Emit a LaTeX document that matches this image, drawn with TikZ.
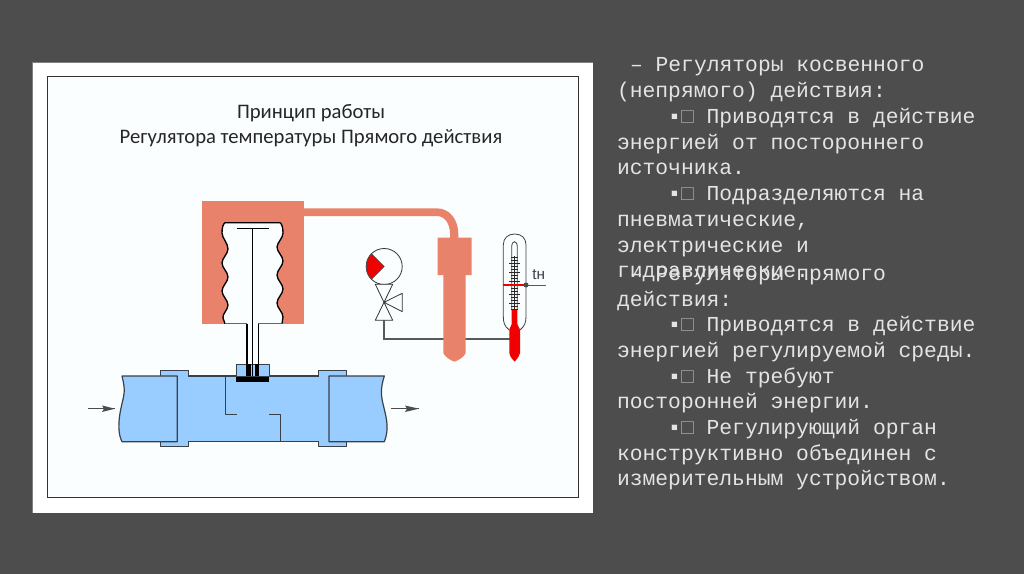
\documentclass[tikz,border=0pt]{standalone}
\usepackage{fontspec}
\setmainfont{Liberation Mono}
\newfontfamily\titlefont{Carlito}
\newfontfamily\labelfont{Liberation Sans}
\definecolor{bgc}{HTML}{4D4D4D}
\definecolor{panel}{HTML}{FBFEFF}
\definecolor{orangec}{HTML}{E9826B}
\definecolor{bluec}{HTML}{99CCFF}
\definecolor{linec}{HTML}{3A4048}
\definecolor{txt}{HTML}{E4E4E4}
\definecolor{boxc}{HTML}{A0A0A0}
\definecolor{redc}{HTML}{F00000}
\newcommand{\bul}{\hspace*{38.4pt}▪{\color{boxc}□} }
\tikzset{
  x=0.75pt,y=-0.75pt,
  body/.style={anchor=base west,inner sep=0,outer sep=0,text=txt,font=\fontsize{16}{18}\selectfont},
  titletext/.style={anchor=base,inner sep=0,text=black!85,font=\titlefont\fontsize{15.5}{18}\selectfont},
  outline/.style={draw=linec,line width=0.9pt,line join=round},
  thin line/.style={draw=linec,line width=0.6pt,line join=round},
  tick mark/.style={draw=black!85,line width=0.55pt}
}
\begin{document}
\begin{tikzpicture}
\useasboundingbox (0,0) rectangle (1024,574);
\fill[bgc] (0,0) rectangle (1024,574);
% frame
\fill[white] (32,62) rectangle (593,513);
\draw[black!50,line width=1pt] (32.5,62.5) -- (32.5,513) (32.5,62.5) -- (593,62.5);
\fill[panel] (47,77) rectangle (578,497);
\draw[black!80,line width=0.75pt] (47,77) rectangle (578,497);
% titles
\node[titletext] (t1) at (311,119) {Принцип работы};
\node[titletext] (t2) at (311,144) {Регулятора температуры Прямого действия};
% pipe
\fill[bluec] (160.3,370.3) rectangle (188,446.7);
\fill[bluec] (318.7,370.3) rectangle (346.7,446.7);
\fill[bluec] (188,376) rectangle (318.7,441.7);
\draw[thin line] (160.3,376) -- (160.3,370.3) -- (188,370.3) -- (188,376)
  (160.3,441.7) -- (160.3,446.7) -- (188,446.7) -- (188,441.7)
  (318.7,376) -- (318.7,370.3) -- (346.7,370.3) -- (346.7,376)
  (318.7,441.7) -- (318.7,446.7) -- (346.7,446.7) -- (346.7,441.7);
\draw[outline] (188,376) -- (318.7,376) (188,441.7) -- (318.7,441.7);
\draw[outline,fill=bluec] (177.3,376) -- (122,376) .. controls (126,392) and (124,394) .. (121,408) .. controls (118,422) and (118,434) .. (122,441.7) -- (177.3,441.7) -- cycle;
\draw[outline,fill=bluec] (329,376) -- (384.3,376) .. controls (380,390) and (381,396) .. (384,408) .. controls (387,420) and (389,430) .. (384.3,441.7) -- (329,441.7) -- cycle;
\draw[outline] (225.7,376) -- (225.7,414.7) -- (236.7,414.7) (269.3,414.7) -- (280.7,414.7) -- (280.7,441.7);
% valve box on the pipe
\draw[thin line,fill=bluec] (236.7,376) -- (236.7,364) -- (269.3,364) -- (269.3,376);
\fill[black] (247,364) rectangle (251,376);
\fill[black] (255,364) rectangle (259,376);
\fill[black] (236,377.3) rectangle (269.3,382.3);
% sensor block
\fill[orangec] (202.3,201) rectangle (303.7,323.7);
\fill[orangec] (303.7,208.3) -- (436.7,208.3) .. controls (450,208.3) and (458.3,220) .. (458.3,234) -- (458.3,240) -- (450,240) -- (450,234) .. controls (450,224) and (445,216) .. (436.7,216) -- (303.7,216) -- cycle;
\path[fill=panel] (225,323.7) -- (223,318) .. controls (222,314) and (228,310) .. (228,305) .. controls (228,300) and (222,296) .. (222,291) .. controls (222,286) and (228,282) .. (228,277) .. controls (228,272) and (222,268) .. (222,263) .. controls (222,258) and (228,254) .. (228,249) .. controls (228,243) and (222,238) .. (222,233) .. controls (222,228) and (223,224) .. (225,222.7) -- (280,222.7) .. controls (282,224) and (283,228) .. (283,233) .. controls (283,238) and (277,243) .. (277,247) .. controls (277,252) and (283,256) .. (283,261) .. controls (283,266) and (277,270) .. (277,275) .. controls (277,280) and (283,284) .. (283,289) .. controls (283,294) and (277,298) .. (277,303) .. controls (277,308) and (283,312) .. (283,317) -- (282,323.7) -- cycle;
\draw[draw=black,line width=1pt] (225,323.7) -- (223,318) .. controls (222,314) and (228,310) .. (228,305) .. controls (228,300) and (222,296) .. (222,291) .. controls (222,286) and (228,282) .. (228,277) .. controls (228,272) and (222,268) .. (222,263) .. controls (222,258) and (228,254) .. (228,249) .. controls (228,243) and (222,238) .. (222,233) .. controls (222,228) and (223,224) .. (225,222.7) -- (280,222.7) .. controls (282,224) and (283,228) .. (283,233) .. controls (283,238) and (277,243) .. (277,247) .. controls (277,252) and (283,256) .. (283,261) .. controls (283,266) and (277,270) .. (277,275) .. controls (277,280) and (283,284) .. (283,289) .. controls (283,294) and (277,298) .. (277,303) .. controls (277,308) and (283,312) .. (283,317) -- (282,323.7);
\fill[panel] (247,322) rectangle (258.5,326);
\draw[black!60,line width=0.7pt] (225,323.7) -- (247,323.7) (258.3,323.7) -- (282,323.7);
\draw[black,line width=0.9pt] (247,323.7) -- (247,376) (258.5,323.7) -- (258.5,376);
\draw[black,line width=0.9pt] (252.5,228.5) -- (252.5,376);
\draw[black,line width=0.9pt] (236.7,228.5) -- (269.3,228.5);
% connecting capillary
\draw[black!65,line width=1pt] (384,320.3) -- (384,339) -- (511,339);
% bulb
\fill[orangec] (437.7,237.7) -- (471.7,237.7) -- (471.7,275) -- (465.7,275) -- (465.7,353) .. controls (464,357) and (459,360) .. (454.5,361.7) .. controls (450,360) and (445,357) .. (443.3,353) -- (443.3,275) -- (437.7,275) -- cycle;
% gauge
\draw[line width=0.6pt,black!80,fill=panel] (384.2,266.5) circle (18);
\fill[redc,draw=black!70,line width=0.5pt] (384.2,266.5) -- (371.5,253.8) .. controls (364.5,260.8) and (364.5,272.2) .. (371.5,279.2) -- cycle;
% three-way valve
\draw[thin line,draw=black!80,fill=panel] (375.3,284.3) -- (392.7,284.3) -- (384,302.3) -- (375.3,320.3) -- (392.7,320.3) -- (384,302.3) -- cycle;
\draw[thin line,draw=black!80,fill=panel] (384,302.3) -- (402.3,293.3) -- (402.3,311.7) -- cycle;
% thermometer
\draw[line width=0.6pt,black!75,fill=panel] (509.3,330) .. controls (504,326) and (503.3,322) .. (503.3,316) -- (503.3,245) .. controls (503.3,238) and (508,234) .. (514.7,234) .. controls (521.5,234) and (526,238) .. (526,245) -- (526,316) .. controls (526,322) and (525,326) .. (520,330);
\draw[line width=0.6pt,black!75] (511.7,310) -- (511.7,247) .. controls (511.7,243.5) and (513,241.7) .. (514.5,241.7) .. controls (516,241.7) and (517.3,243.5) .. (517.3,247) -- (517.3,310);
\foreach \yy [count=\i] in {257,260,263,266,269,272,275,278,281,288,291,294,297,300,303,306,309}{
  \pgfmathsetmacro{\half}{ifthenelse(mod(\i,3)==0,5.3,3.4)}
  \draw[tick mark] (514.5-\half,\yy) -- (514.5+\half,\yy);
}
\draw[black!85,line width=0.7pt] (514.5,256) -- (514.5,310);
\fill[redc] (511.7,310) -- (517.3,310) -- (517.3,324) .. controls (517.5,327) and (520,327) .. (520,331) -- (520,353) .. controls (519,357) and (516,360) .. (514.7,361.5) .. controls (513,360) and (510,357) .. (509.3,353) -- (509.3,331) .. controls (509.3,327) and (511.5,327) .. (511.7,324) -- cycle;
\draw[redc,line width=1pt] (503.3,285) -- (526,285);
\draw[black!65,line width=0.6pt] (526,285) -- (546,285);
\fill[black!70] (526,285) circle (2.5);
\node[anchor=base west,inner sep=0,text=linec,font=\labelfont\fontsize{11.5}{12}\selectfont] (tn) at (532,279.5) {tн};
% flow arrows
\coordinate (ia) at (88,408.7); \coordinate (ib) at (115,408.7);
\coordinate (oa) at (390.7,408.7); \coordinate (ob) at (419,408.7);
\draw[black!70,line width=0.7pt] (ia) -- (ib);
\draw[black!70,line width=0.7pt] (oa) -- (ob);
\fill[black!70] (ib) -- (102,405.5) -- (104,408.7) -- (102,412) -- cycle;
\fill[black!70] (ob) -- (405,405.5) -- (407,408.7) -- (405,412) -- cycle;
% right-hand text
\node[body] (l1) at (630,72) {– Регуляторы косвенного};
\node[body] (l2) at (617,98) {(непрямого) действия:};
\node[body] (l3) at (617,124) {\bul Приводятся в действие};
\node[body] (l4) at (617,149.5) {энергией от постороннего};
\node[body] (l5) at (617,175) {источника.};
\node[body] (l6) at (617,200.5) {\bul Подразделяются на};
\node[body] (l7) at (617,226) {пневматические,};
\node[body] (l8) at (617,252) {электрические и};
\node[body] (l9) at (617,277.5) {гидравлические.};
\node[body] (l10) at (630,280) {– Регуляторы прямого};
\node[body] (l11) at (617,306) {действия:};
\node[body] (l12) at (617,331.5) {\bul Приводятся в действие};
\node[body] (l13) at (617,357) {энергией регулируемой среды.};
\node[body] (l14) at (617,383) {\bul Не требуют};
\node[body] (l15) at (617,408.5) {посторонней энергии.};
\node[body] (l16) at (617,434) {\bul Регулирующий орган};
\node[body] (l17) at (617,460) {конструктивно объединен с};
\node[body] (l18) at (617,485.5) {измерительным устройством.};
\end{tikzpicture}
\end{document}
